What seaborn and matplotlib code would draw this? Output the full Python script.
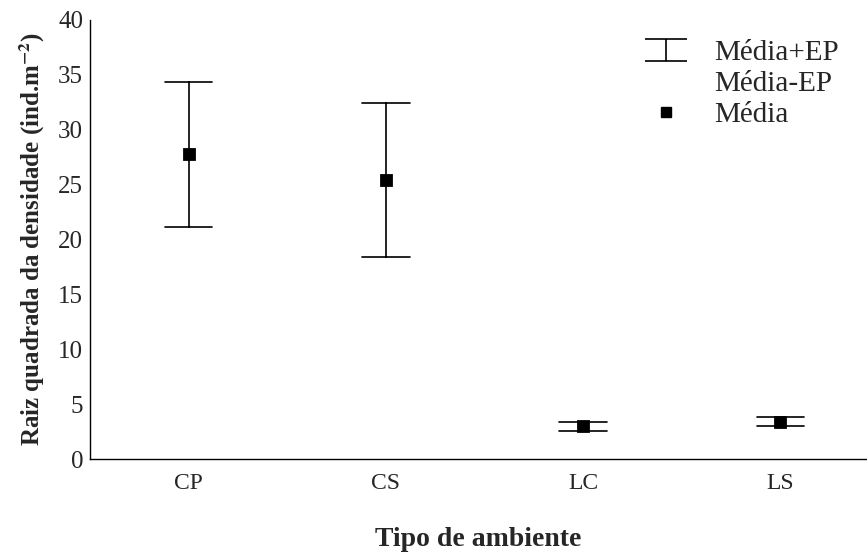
import numpy as np
import pandas as pd
import matplotlib
matplotlib.use("Agg")
import matplotlib.pyplot as plt
from matplotlib.path import Path
from matplotlib.lines import Line2D
import seaborn as sns

# valores
tipos = ["CP", "CS", "LC", "LS"]
medias = [27.8, 25.4, 3.0, 3.4]
ep_sup = [34.3, 32.4, 3.4, 3.8]   # media + EP
ep_inf = [21.1, 18.4, 2.6, 3.0]   # media - EP

sns.set_theme(style="white")
plt.rcParams['font.family'] = ['Liberation Serif', 'DejaVu Serif']
plt.rcParams['mathtext.fontset'] = 'stix'

# tabela longa: limite inferior, media, limite superior por tipo
df = pd.DataFrame({
    "tipo": np.repeat(tipos, 3),
    "valor": np.ravel(np.column_stack([ep_inf, medias, ep_sup])),
})

fig = plt.figure(figsize=(8.67, 5.6), dpi=100)
ax = fig.add_axes([0.104, 0.18, 0.896, 0.785])

sns.pointplot(data=df, x="tipo", y="valor", order=tipos,
              estimator="median", errorbar=lambda v: (v.min(), v.max()),
              linestyle="none", marker="s", markersize=6.5, color="black",
              capsize=0.24, err_kws={"linewidth": 1.2}, ax=ax)

ax.set_ylim(0, 40)
ax.set_yticks(range(0, 45, 5))
ax.set_xlim(-0.5, 3.44)
ax.set_xticks(range(len(tipos)))
ax.set_xticklabels(tipos)
ax.set_xticks([0.5, 1.5, 2.5], minor=True)

for s in ["top", "right"]:
    ax.spines[s].set_visible(False)
for s in ["left", "bottom"]:
    ax.spines[s].set_color("black")
    ax.spines[s].set_linewidth(1.0)

ax.tick_params(axis="x", which="major", length=0, labelsize=17, pad=10)
ax.tick_params(axis="x", which="minor", direction="in", length=5, width=1, color="black")
ax.tick_params(axis="y", direction="inout", length=6, width=1, color="black",
               labelsize=18, pad=2)

ax.set_xlabel("Tipo de ambiente", fontsize=20, fontweight="bold", labelpad=24)
ax.set_ylabel(r"Raiz quadrada da densidade (ind.m$^{\mathbf{-2}}$)", fontsize=18,
              fontweight="bold", labelpad=8)

# legenda
ep_path = Path([(-1, 0.55), (1, 0.55), (0, 0.55), (0, -0.55), (-1, -0.55), (1, -0.55)],
               [Path.MOVETO, Path.LINETO, Path.MOVETO, Path.LINETO, Path.MOVETO, Path.LINETO])
handles = [
    Line2D([], [], marker=ep_path, markersize=30, markerfacecolor="none",
           markeredgecolor="black", markeredgewidth=1.2, linestyle="none"),
    Line2D([], [], linestyle="none"),
    Line2D([], [], marker="s", markersize=6.5, color="black", linestyle="none"),
]
labels = ["Média+EP", "Média-EP", "Média"]
ax.legend(handles, labels, loc="upper right", bbox_to_anchor=(0.99, 1.0),
          frameon=False, fontsize=21, handlelength=1.8, labelspacing=0.15,
          handletextpad=0.75, borderaxespad=0.3)

fig.savefig("out.png", dpi=100)
